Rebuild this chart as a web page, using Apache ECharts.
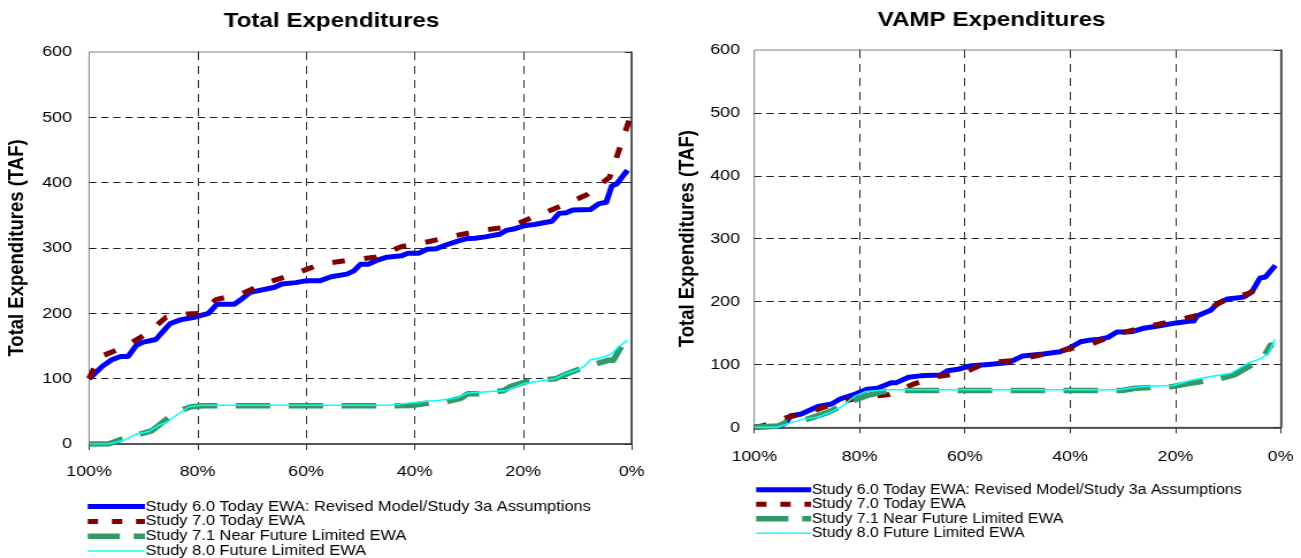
<!DOCTYPE html>
<html>
<head>
<meta charset="utf-8">
<script src="https://cdn.jsdelivr.net/npm/echarts@6/dist/echarts.min.js"></script>
<style>
html,body{margin:0;padding:0;background:#fff;overflow:hidden;}
#wrap{width:1131px;height:558px;transform:scaleX(1.150309);transform-origin:0 0;}
</style>
</head>
<body>
<div id="wrap"></div>
<script>
// ---- labels ----
const seriesNames = [
  'Study 6.0 Today EWA: Revised Model/Study 3a Assumptions',
  'Study 7.0 Today EWA',
  'Study 7.1 Near Future Limited EWA',
  'Study 8.0 Future Limited EWA'
];
const chartTitles = ['Total Expenditures', 'VAMP Expenditures'];
const yAxisTitle = 'Total Expenditures (TAF)';
const xTicks = [0, 20, 40, 60, 80, 100];   // percent exceedance
const yTicks = [0, 100, 200, 300, 400, 500, 600];

// ---- Total Expenditures ----
const total60P = [100, 97.4, 95.8, 94.2, 92.8, 91.3, 90.0, 87.7, 85.1, 83.2, 80.6, 78.0, 76.4, 73.2, 72.2, 70.3, 65.8, 64.5, 61.9, 59.9, 57.4, 55.4, 52.5, 51.2, 50.0, 48.6, 47.0, 45.1, 42.5, 41.2, 39.3, 37.7, 36.0, 34.1, 32.2, 30.6, 28.9, 27.0, 24.4, 23.1, 21.8, 19.9, 18.0, 14.7, 13.4, 12.1, 10.9, 7.6, 6.0, 4.7, 3.7, 2.8, 0.8];
const total60V = [100, 120, 129, 134, 134, 151, 156, 160, 184, 190, 194, 200, 214, 214, 220, 232, 240, 245, 247, 250, 250, 256, 260, 265, 275, 275, 281, 286, 288, 292, 292, 298, 299, 305, 310, 314, 315, 317, 321, 327, 329, 334, 336, 341, 353, 354, 358, 359, 368, 370, 395, 398, 419];

const total70P = [100, 98.1, 93.7, 89.3, 85.8, 82.0, 79.5, 76.6, 71.9, 67.2, 62.2, 57.5, 52.5, 47.3, 42.5, 37.3, 32.5, 27.5, 22.3, 17.6, 12.5, 8.2, 4.1, 2.5, 0.5];
const total70V = [100, 133, 148, 169, 194, 199, 200, 221, 230, 247, 260, 275, 281, 286, 302, 310, 319, 327, 333, 349, 366, 382, 408, 446, 495];

const total71P = [100, 96.4, 94.2, 93.0, 90.3, 88.5, 85.1, 82.6, 81.2, 79.0, 45.0, 40.5, 39.6, 36.7, 34.5, 31.5, 30.2, 27.6, 23.5, 22.5, 19.0, 17.3, 14.0, 11.8, 8.9, 4.4, 3.4, 1.8, 0.8];
const total71V = [0, 0, 7, 8, 16, 20, 42, 53, 57, 58.5, 58.5, 59, 60, 63.5, 64, 70, 77, 77, 82, 87.5, 96.6, 97.6, 100, 108, 117, 128, 128, 151, 156];

const total80P = [100, 96.4, 93.5, 91.3, 89.0, 87.1, 85.8, 83.9, 81.6, 79.3, 44.4, 40.6, 35.4, 32.2, 30.2, 23.1, 19.9, 14.1, 12.1, 10.2, 8.9, 7.6, 5.7, 3.7, 2.5, 0.8];
const total80V = [0, 0, 6, 15, 19, 29, 32.5, 44, 57, 59.5, 59.5, 63, 67, 70.6, 78, 82, 92.5, 100, 108, 113, 118, 129, 132, 138, 148, 158.6];

// ---- VAMP Expenditures ----
const vamp60P = [100, 95.1, 93.8, 93.1, 91.2, 87.9, 85.3, 83.7, 80.8, 78.5, 76.6, 74.0, 73.0, 70.7, 68.5, 64.6, 63.3, 61.3, 58.7, 55.5, 51.6, 49.0, 45.1, 41.9, 39.9, 38.0, 36.0, 34.4, 32.8, 31.1, 28.2, 26.3, 23.0, 19.8, 17.2, 16.5, 15.9, 13.3, 12.0, 10.1, 7.1, 5.5, 3.9, 2.9, 1.0];
const vamp60V = [0, 1.6, 9.5, 18.5, 20.6, 33, 37, 45, 53, 60.7, 62, 71, 71, 79.7, 81.8, 83, 90, 92.3, 98, 100, 103, 113.5, 116.6, 120, 127, 136, 139, 140, 143, 151.5, 152, 157, 161.5, 166, 169, 169, 177, 186, 197, 204, 207, 215, 237.5, 239, 257.5];

const vamp70P = [100, 98.3, 94.1, 89.2, 84.4, 79.5, 74.6, 69.8, 65.2, 60.2, 55.8, 50.9, 45.7, 40.9, 35.7, 30.8, 26.0, 20.8, 15.9, 11.0, 6.2, 1.9];
const vamp70V = [0, 2.6, 14.8, 25, 38.5, 48, 51.7, 68.6, 80.7, 87, 103, 106, 115, 123, 133.5, 149, 159, 168, 178, 200.5, 212.7, 232];

const vamp71P = [100, 95.5, 93.8, 91.2, 86.0, 82.4, 78.8, 75.3, 72.4, 30.2, 27.6, 20.4, 17.2, 12.0, 8.8, 4.9, 3.2, 1.9, 1.3];
const vamp71V = [0, 2, 8, 9.5, 23.7, 38.5, 50, 57, 58.6, 58.6, 62, 65, 70, 76.5, 83.4, 102, 112, 131, 131];

const vamp80P = [100, 95.7, 93.1, 90.5, 87.9, 85.3, 83.4, 80.8, 78.8, 74.9, 30.8, 26.3, 20.4, 17.2, 13.3, 9.4, 6.2, 3.6, 2.3, 1.1];
const vamp80V = [0, 0, 7, 13, 16.4, 25, 33, 50, 57, 59.6, 59.6, 65, 66.5, 74.4, 80.7, 86, 102, 110, 117.7, 140];

// ---- build ----
const zip = (p, v) => p.map((x, i) => [x, v[i]]);
const FONT = 'Arial, "Liberation Sans", sans-serif';
const styles = [
  {color: '#0000FF', width: 5, type: 'solid'},
  {color: '#800000', width: 5, type: [11, 17]},
  {color: '#339966', width: 5.5, type: [30, 16]},
  {color: '#00FFFF', width: 1.5, type: 'solid'}
];
const legendLineType = [
  'solid', [9, 12], [28, 12], 'solid'
];
const chartData = [
  [zip(total60P, total60V), zip(total70P, total70V), zip(total71P, total71V), zip(total80P, total80V)],
  [zip(vamp60P, vamp60V), zip(vamp70P, vamp70V), zip(vamp71P, vamp71V), zip(vamp80P, vamp80V)]
];

const grids = [
  {left: 77.4, top: 52, width: 471.8, height: 392},
  {left: 655.7, top: 50, width: 457.6, height: 377.3}
];
const yLabelMargin = [14.8, 12.4];
const yNameGap = [53, 48];
const xLabelMargin = [20, 21];
const titlePos = [{left: 288.2, top: 11}, {left: 862, top: 9.5}];
const legendPos = [
  {left: 73.5, top: 499.2, itemWidth: 49.7, fontSize: 14.3, lineHeight: 14.8},
  {left: 654.6, top: 482.6, itemWidth: 47.8, fontSize: 13.8, lineHeight: 14.5}
];

const option = {
  animation: false,
  backgroundColor: '#fff',
  title: chartTitles.map((t, i) => ({
    text: t, left: titlePos[i].left, top: titlePos[i].top, textAlign: 'center', padding: 0,
    textStyle: {fontFamily: FONT, fontSize: 21, fontWeight: 'bold', color: '#000'}
  })),
  legend: legendPos.map(l => ({
    data: seriesNames.map((n, si) => ({
      name: n,
      itemStyle: {opacity: 0, borderWidth: 0},
      lineStyle: {color: styles[si].color, width: styles[si].width, type: legendLineType[si], opacity: 1, cap: 'butt'}
    })),
    orient: 'vertical', left: l.left, top: l.top, height: 120, padding: 0,
    itemWidth: l.itemWidth, itemHeight: 10, itemGap: 0,
    textStyle: {fontFamily: FONT, fontSize: l.fontSize, lineHeight: l.lineHeight, color: '#000', padding: [0, 0, 0, -4.5]},
    selectedMode: false
  })),
  grid: grids.map(g => Object.assign({show: true, borderColor: '#808080', borderWidth: 1, containLabel: false}, g)),
  xAxis: grids.map((g, i) => ({
    type: 'value', gridIndex: i, min: xTicks[0], max: xTicks[xTicks.length - 1], interval: 20, inverse: true,
    axisLine: {show: true, onZero: false, lineStyle: {color: '#333', width: 1.5}},
    axisTick: {show: true, length: 6, lineStyle: {color: '#333'}},
    axisLabel: {formatter: '{value}%', fontFamily: FONT, fontSize: 15.5, color: '#000', margin: xLabelMargin[i]},
    splitLine: {show: true, showMinLine: false, showMaxLine: false, lineStyle: {color: '#333', type: [8, 6], width: 1}}
  })),
  yAxis: grids.map((g, i) => ({
    type: 'value', gridIndex: i, min: yTicks[0], max: yTicks[yTicks.length - 1], interval: 100,
    name: yAxisTitle, nameLocation: 'middle', nameGap: yNameGap[i],
    nameTextStyle: {fontFamily: FONT, fontSize: 18.5, fontWeight: 'bold', color: '#000'},
    axisLine: {show: true, lineStyle: {color: '#333', width: 1.5}},
    axisTick: {show: true, length: 6, lineStyle: {color: '#333'}},
    axisLabel: {fontFamily: FONT, fontSize: 15.5, color: '#000', margin: yLabelMargin[i]},
    splitLine: {show: true, showMinLine: false, showMaxLine: false, lineStyle: {color: '#222', type: [6.5, 4], width: 1}}
  })),
  series: []
};

chartData.forEach((sets, gi) => {
  sets.forEach((d, si) => {
    option.series.push({
      type: 'line', name: seriesNames[si], xAxisIndex: gi, yAxisIndex: gi,
      data: d, symbol: 'none', smooth: false, silent: true,
      lineStyle: {color: styles[si].color, width: styles[si].width, type: styles[si].type, cap: 'butt', join: 'round'},
      itemStyle: {color: styles[si].color},
      z: 2 + si
    });
  });
});

const chart = echarts.init(document.getElementById('wrap'), null, {renderer: 'canvas', width: 1131, height: 558});
chart.setOption(option);
</script>
</body>
</html>
